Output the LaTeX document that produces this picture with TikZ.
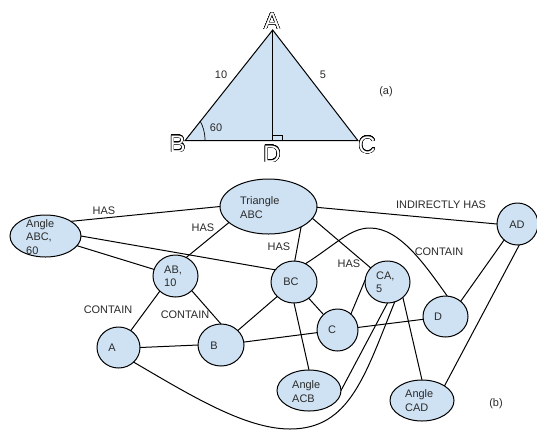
\documentclass[tikz,border=0pt]{standalone}
\usepackage{fontspec}
\usepackage[copies]{contour}
\setmainfont{Liberation Sans}
\contourlength{0.4bp}
\contournumber{24}
\definecolor{fillblue}{HTML}{CFE2F3}
\definecolor{txtgrey}{HTML}{2A2A2A}
\newcommand{\bigletter}[1]{\contour{black}{\textcolor{white}{#1}}}
\tikzset{
  shapebox/.style={ellipse,draw=black,fill=fillblue,line width=1bp,inner sep=0pt,outer sep=0pt,minimum width=#1},
  lbl/.style={text=txtgrey,font=\fontsize{11}{13.5}\selectfont,inner sep=0pt,align=left},
  big/.style={font=\fontsize{24}{24}\selectfont,inner sep=0pt},
  edge/.style={draw=black,line width=1bp},
}
\usetikzlibrary{shapes.geometric}
\begin{document}
\begin{tikzpicture}[x=1bp,y=-1bp]
\path[use as bounding box,fill=white] (0,0) rectangle (537,430);
% triangle
\coordinate (ta) at (272.7,30);
\coordinate (tb) at (185,140.7);
\coordinate (tc) at (358,140.7);
\coordinate (td) at (272.7,140.7);
\draw[fill=fillblue,edge] (ta) -- (tb) -- (tc) -- cycle;
\draw[edge] (ta) -- (td);
\draw[edge,line width=0.7bp] (273,135) -- (282,135) -- (282,140.7);
\draw[edge,line width=0.7bp] (205,140.7) .. controls (205,132) and (203,126) .. (200,121);
\node[big] (la) at (272,21.5) {\bigletter{A}};
\node[big] (lb) at (177.5,144) {\bigletter{B}};
\node[big] (lc) at (367,145) {\bigletter{C}};
\node[big] (ld) at (272,154) {\bigletter{D}};
\node[lbl] (t10) at (221,75) {10};
\node[lbl] (t5) at (323,75) {5};
\node[lbl] (t60) at (216,128) {60};
\node[lbl] (ta1) at (386,92) {(a)};
% graph nodes
\node[shapebox=97bp,minimum height=55bp] (tri) at (268.5,206.5) {};
\node[shapebox=71bp,minimum height=42bp] (ang) at (45.5,236) {};
\node[shapebox=45bp,minimum height=42bp] (ab) at (175.5,276) {};
\node[shapebox=43bp,minimum height=41bp] (a) at (118.5,347.5) {};
\node[shapebox=46bp,minimum height=42bp] (b) at (221,345) {};
\node[shapebox=46bp,minimum height=42bp] (bc) at (294,282) {};
\node[shapebox=41bp,minimum height=42bp] (c) at (337.5,330) {};
\node[shapebox=45bp,minimum height=42bp] (ca) at (387.5,282) {};
\node[shapebox=45bp,minimum height=41bp] (d) at (445.5,316.5) {};
\node[shapebox=41bp,minimum height=42bp] (ad) at (517.5,224) {};
\node[shapebox=64bp,minimum height=41bp] (acb) at (309,390.5) {};
\node[shapebox=64bp,minimum height=41bp] (cad) at (422,400.5) {};
% connectors
\draw[edge] (ang.30) -- (tri.west);
\draw[edge] (ang.east) -- (bc.147);
\draw[edge] (ang) -- (ab);
\draw[edge] (tri.202) -- (ab.60);
\draw[edge] (tri.-32) -- (bc.88);
\draw[edge] (tri.-15) -- (ca.140);
\draw[edge] (tri.-1) -- (ad.west);
\draw[edge] (ab.224) -- (a.54);
\draw[edge] (ab.-42) -- (b.north);
\draw[edge] (a.east) -- (b.west);
\draw[edge] (b) -- (bc);
\draw[edge] (b) -- (c);
\draw[edge] (c) -- (d);
\draw[edge] (bc) -- (c);
\draw[edge] (c.50) -- (ca.175);
\draw[edge] (bc.south) -- (acb.north);
\draw[edge] (ca.-45) -- (cad.north);
\draw[edge] (ca.south) -- (acb.east);
\draw[edge] (d.45) -- (ad.230);
\draw[edge] (cad.33) -- (ad.275);
\draw[edge] (bc.58) .. controls (335,245) and (350,228) .. (370,228) .. controls (400,228) and (425,265) .. (d.85);
\draw[edge] (a.-44) .. controls (190,395) and (245,429) .. (290,429) .. controls (350,429) and (365,375) .. (ca.-70);
% node texts
\node[lbl,anchor=west] (tri-t) at (240,207.5) {Triangle\\ABC};
\node[lbl,anchor=west] (ang-t) at (26,237) {Angle\\ABC,\\60};
\node[lbl,anchor=west] (ab-t) at (164,276.5) {AB,\\10};
\node[lbl] (a-t) at (112,347.5) {A};
\node[lbl] (b-t) at (214,346) {B};
\node[lbl] (bc-t) at (291,282) {BC};
\node[lbl] (c-t) at (332,330) {C};
\node[lbl,anchor=west] (ca-t) at (376,282) {CA,\\5};
\node[lbl] (d-t) at (438,317) {D};
\node[lbl] (ad-t) at (517,225) {AD};
\node[lbl,anchor=west] (acb-t) at (292,391.5) {Angle\\ACB};
\node[lbl,anchor=west] (cad-t) at (405,400.5) {Angle\\CAD};
% edge labels
\node[lbl] (h1) at (104,211) {HAS};
\node[lbl] (h2) at (203,228) {HAS};
\node[lbl] (h3) at (279,247) {HAS};
\node[lbl] (h4) at (349,264) {HAS};
\node[lbl] (c1) at (108,310) {CONTAIN};
\node[lbl] (c2) at (185,315) {CONTAIN};
\node[lbl] (c3) at (439,252) {CONTAIN};
\node[lbl] (ih) at (441,205) {INDIRECTLY HAS};
\node[lbl] (tb1) at (496,404) {(b)};
\end{tikzpicture}
\end{document}
